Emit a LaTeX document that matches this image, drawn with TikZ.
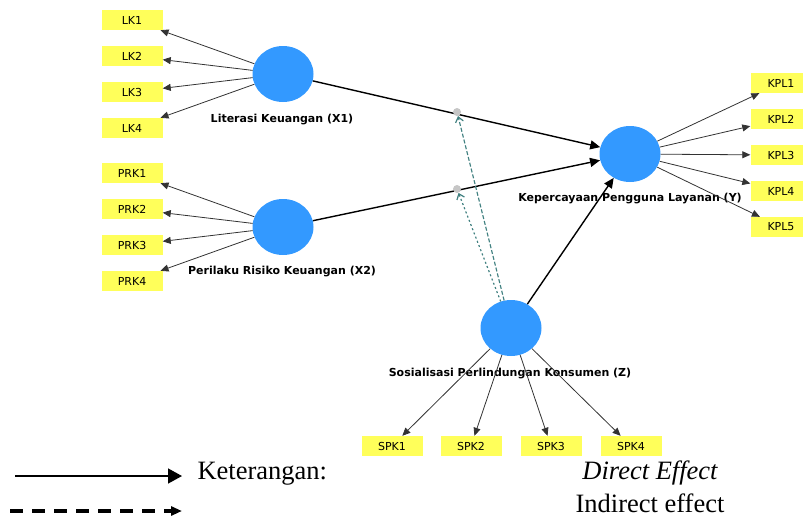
\documentclass[tikz,border=0pt]{standalone}
\usepackage{fontspec}
\setmainfont{Liberation Serif}
\setsansfont{DejaVu Sans}
\usetikzlibrary{shapes.geometric,arrows.meta}
\definecolor{latentblue}{RGB}{51,153,255}
\definecolor{itemyellow}{RGB}{255,255,90}
\definecolor{modteal}{RGB}{64,128,128}
\tikzset{
  every node/.style={
    font=\sffamily\fontsize{11}{12}\selectfont
  },
  latent/.style={
    shape=ellipse,
    fill=latentblue,
    minimum width=61pt,
    minimum height=56pt,
    inner sep=0pt
  },
  indicator/.style={
    shape=rectangle,
    fill=itemyellow,
    minimum width=61pt,
    minimum height=20pt,
    inner sep=0pt
  },
  varname/.style={
    font=\sffamily\bfseries\fontsize{11}{12}\selectfont
  },
  loading/.style={
    draw=black!80,
    line width=0.8pt,
    -{Triangle[length=8pt,width=7pt]}
  },
  effect/.style={
    draw=black,
    line width=1.4pt,
    -{Triangle[length=10pt,width=9pt]}
  },
  modpoint/.style={
    shape=circle,
    fill=gray!45,
    minimum size=8pt,
    inner sep=0pt
  },
  modline/.style={
    draw=modteal,
    line width=1.2pt,
    -{Straight Barb[length=5pt,width=8pt]}
  },
  legendtext/.style={
    font=\rmfamily\fontsize{26.5}{30}\selectfont
  }
}
\begin{document}
\begin{tikzpicture}[x=1pt,y=-1pt]
  \useasboundingbox (0,0) rectangle (803,517);

  % latent variables
  \node [latent] (X1) at (283,74) {};
  \node [latent] (X2) at (283,227) {};
  \node [latent] (Y) at (630,154) {};
  \node [latent] (Z) at (511,328) {};

  \node [varname] (X1name) at (282,120) {Literasi Keuangan (X1)};
  \node [varname] (X2name) at (282,272) {Perilaku Risiko Keuangan (X2)};
  \node [varname] (Yname) at (630,199) {Kepercayaan Pengguna Layanan (Y)};
  \node [varname] (Zname) at (510,374) {Sosialisasi Perlindungan Konsumen (Z)};

  % indicators
  \foreach \i/\y in {1/20,2/56,3/92,4/128} {
    \node [indicator] (LK\i) at (132,\y) {LK\i};
    \draw [loading] (X1) -- (LK\i);
  }
  \foreach \i/\y in {1/173,2/209,3/245,4/281} {
    \node [indicator] (PRK\i) at (132,\y) {PRK\i};
    \draw [loading] (X2) -- (PRK\i);
  }
  \foreach \i/\y in {1/83,2/119,3/155,4/191,5/227} {
    \node [indicator] (KPL\i) at (781,\y) {KPL\i};
    \draw [loading] (Y) -- (KPL\i);
  }
  \foreach \i/\x in {1/392,2/471,3/551,4/631} {
    \node [indicator] (SPK\i) at (\x,446) {SPK\i};
    \draw [loading] (Z) -- (SPK\i);
  }

  % structural paths
  \draw [effect] (X1) -- (Y);
  \draw [effect] (X2) -- (Y);
  \draw [effect] (Z) -- (Y);

  % moderation
  \node [modpoint] (M1) at (457,112) {};
  \node [modpoint] (M2) at (457,189) {};
  \draw [modline, dash pattern=on 4pt off 2pt] (Z) -- (M1);
  \draw [modline, dash pattern=on 2pt off 2.5pt] (Z) -- (M2);

  % legend
  \coordinate (solidA) at (15,476);
  \coordinate (solidB) at (182,476);
  \coordinate (dashA) at (10,511);
  \coordinate (dashB) at (182,511);
  \draw [line width=1.5pt, -{Triangle[length=14pt,width=15pt]}] (solidA) -- (solidB);
  \draw [line width=3.2pt, dash pattern=on 13pt off 9pt, -{Triangle[length=11pt,width=9pt]}] (dashA) -- (dashB);
  \node [legendtext, anchor=west] (legtitle) at (194,474) {Keterangan:};
  \node [legendtext] (legdirect) at (650,473) {\itshape Direct Effect};
  \node [legendtext] (legindirect) at (650,503) {Indirect effect};
\end{tikzpicture}
\end{document}
